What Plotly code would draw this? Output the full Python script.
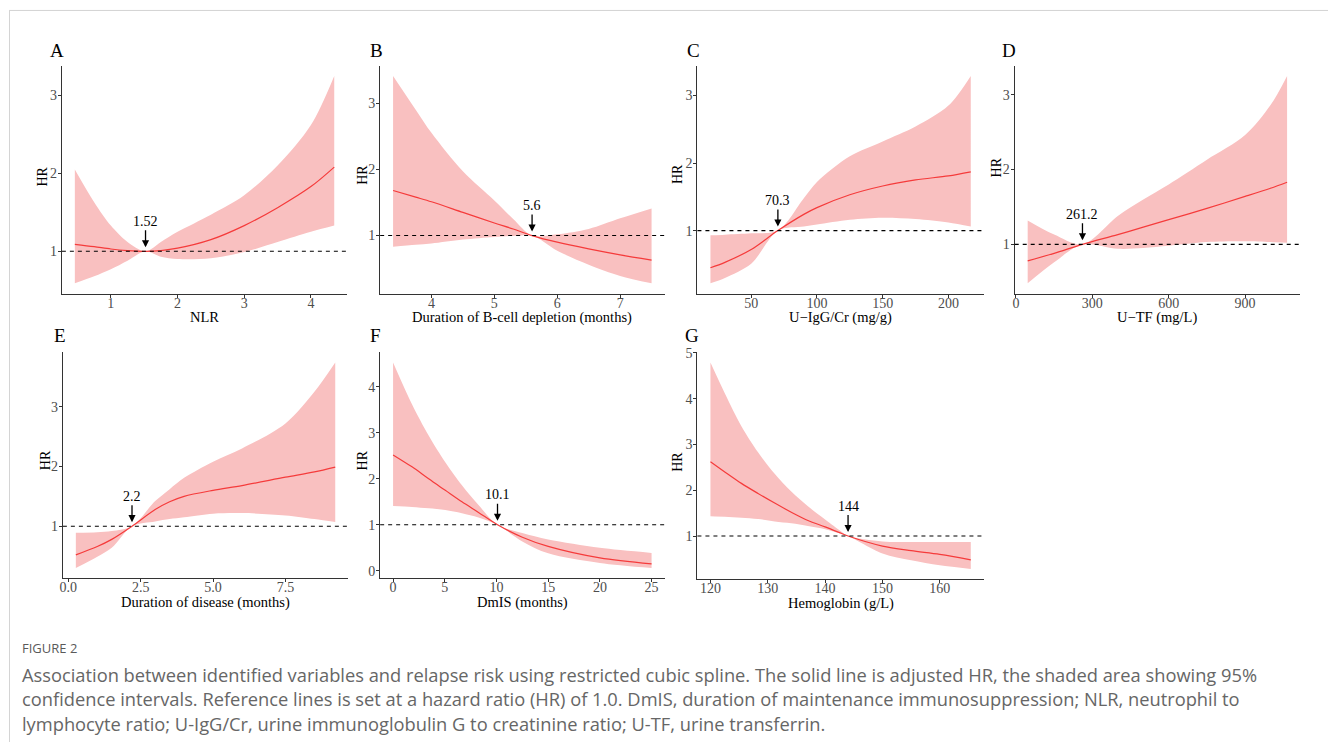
import plotly.graph_objects as go

W, H = 1328, 742

# ---------------- data ----------------
# A: NLR
nlr_x  = [0.46, 0.75, 1.0, 1.25, 1.52, 1.75, 2.0, 2.5, 3.0, 3.5, 4.0, 4.35]
nlr_hr = [1.09, 1.06, 1.03, 1.01, 1.00, 1.01, 1.04, 1.15, 1.33, 1.56, 1.83, 2.08]
nlr_lo = [0.59, 0.68, 0.77, 0.88, 1.00, 0.93, 0.90, 0.91, 0.99, 1.12, 1.25, 1.33]
nlr_hi = [2.05, 1.63, 1.33, 1.12, 1.00, 1.12, 1.25, 1.47, 1.72, 2.10, 2.62, 3.25]

# B: Duration of B-cell depletion
bcd_x  = [3.39, 3.75, 4.0, 4.5, 5.0, 5.3, 5.6, 6.0, 6.5, 7.0, 7.5]
bcd_hr = [1.68, 1.58, 1.51, 1.35, 1.19, 1.10, 1.00, 0.90, 0.80, 0.71, 0.63]
bcd_lo = [0.83, 0.86, 0.88, 0.94, 0.98, 0.995, 1.00, 0.77, 0.56, 0.39, 0.28]
bcd_hi = [3.41, 2.90, 2.55, 1.97, 1.53, 1.25, 1.00, 1.02, 1.10, 1.26, 1.41]

# C: U-IgG/Cr
igg_x  = [19, 30, 50, 70.3, 90, 100, 125, 150, 175, 200, 217]
igg_hr = [0.45, 0.53, 0.72, 1.00, 1.24, 1.34, 1.53, 1.66, 1.75, 1.81, 1.87]
igg_lo = [0.22, 0.30, 0.51, 1.00, 1.06, 1.09, 1.16, 1.19, 1.17, 1.12, 1.06]
igg_hi = [0.93, 0.94, 0.96, 1.00, 1.48, 1.72, 2.10, 2.32, 2.54, 2.85, 3.29]

# D: U-TF
utf_x  = [46, 150, 261.2, 400, 500, 600, 750, 900, 1000, 1065]
utf_hr = [0.78, 0.88, 1.00, 1.13, 1.23, 1.33, 1.48, 1.64, 1.75, 1.83]
utf_lo = [0.48, 0.76, 1.00, 0.94, 0.95, 0.98, 1.03, 1.04, 1.03, 1.02]
utf_hi = [1.32, 1.13, 1.00, 1.38, 1.60, 1.80, 2.13, 2.46, 2.86, 3.25]

# E: Duration of disease
dod_x  = [0.26, 1.0, 1.5, 2.2, 3.0, 3.5, 4.0, 5.0, 6.0, 7.5, 8.5, 9.22]
dod_hr = [0.52, 0.66, 0.78, 1.00, 1.28, 1.41, 1.50, 1.60, 1.68, 1.82, 1.91, 1.99]
dod_lo = [0.30, 0.49, 0.64, 1.00, 1.08, 1.12, 1.15, 1.21, 1.22, 1.18, 1.12, 1.07]
dod_hi = [0.89, 0.90, 0.92, 1.00, 1.42, 1.62, 1.81, 2.08, 2.30, 2.72, 3.25, 3.74]

# F: DmIS
dmis_x  = [0, 1.83, 3.44, 5.05, 6.66, 8.26, 10.1, 12.5, 15, 20, 25]
dmis_hr = [2.52, 2.26, 2.00, 1.75, 1.50, 1.27, 1.00, 0.73, 0.53, 0.28, 0.15]
dmis_lo = [1.41, 1.39, 1.36, 1.32, 1.25, 1.16, 1.00, 0.64, 0.38, 0.17, 0.06]
dmis_hi = [4.53, 3.62, 2.94, 2.36, 1.86, 1.43, 1.00, 0.82, 0.68, 0.50, 0.39]

# G: Hemoglobin
hb_x  = [120, 122.5, 125.4, 128.3, 131.2, 134.1, 137, 140, 142.8, 144, 150, 155, 160, 165.4]
hb_hr = [2.62, 2.40, 2.15, 1.93, 1.72, 1.52, 1.34, 1.20, 1.06, 1.00, 0.78, 0.68, 0.60, 0.48]
hb_lo = [1.43, 1.42, 1.40, 1.37, 1.32, 1.28, 1.22, 1.15, 1.05, 1.00, 0.62, 0.47, 0.36, 0.28]
hb_hi = [4.79, 4.12, 3.40, 2.83, 2.36, 1.97, 1.65, 1.36, 1.10, 1.00, 0.88, 0.87, 0.87, 0.87]

ref_values = [1.52, 5.6, 70.3, 261.2, 2.2, 10.1, 144]
ref_labels = ["1.52", "5.6", "70.3", "261.2", "2.2", "10.1", "144"]
panel_letters = ["A", "B", "C", "D", "E", "F", "G"]
x_titles = ["NLR", "Duration of B-cell depletion (months)", "U\u2212IgG/Cr (mg/g)",
            "U\u2212TF (mg/L)", "Duration of disease (months)", "DmIS (months)",
            "Hemoglobin (g/L)"]
x_tickvals = [[1, 2, 3, 4], [4, 5, 6, 7], [50, 100, 150, 200], [0, 300, 600, 900],
              [0, 2.5, 5, 7.5], [0, 5, 10, 15, 20, 25], [120, 130, 140, 150, 160]]
x_ticktext = [None, None, None, None, ["0.0", "2.5", "5.0", "7.5"], None, None]
y_tickvals = [[1, 2, 3], [1, 2, 3], [1, 2, 3], [1, 2, 3], [1, 2, 3],
              [0, 1, 2, 3, 4], [1, 2, 3, 4, 5]]

series = [
    (nlr_x, nlr_hr, nlr_lo, nlr_hi),
    (bcd_x, bcd_hr, bcd_lo, bcd_hi),
    (igg_x, igg_hr, igg_lo, igg_hi),
    (utf_x, utf_hr, utf_lo, utf_hi),
    (dod_x, dod_hr, dod_lo, dod_hi),
    (dmis_x, dmis_hr, dmis_lo, dmis_hi),
    (hb_x, hb_hr, hb_lo, hb_hi),
]

caption_head = "FIGURE 2"
caption_lines = [
    "Association between identified variables and relapse risk using restricted cubic spline. The solid line is adjusted HR, the shaded area showing 95%",
    "confidence intervals. Reference lines is set at a hazard ratio (HR) of 1.0. DmIS, duration of maintenance immunosuppression; NLR, neutrophil to",
    "lymphocyte ratio; U-IgG/Cr, urine immunoglobulin G to creatinine ratio; U-TF, urine transferrin.",
]

# ---------------- layout geometry (pixels) ----------------
boxes = [(59, 345, 60, 290), (378, 663, 60, 290), (696, 983, 60, 290), (1014, 1300, 60, 290),
         (60, 346, 349, 577), (378, 663, 349, 577), (696, 983, 349, 578)]
hr_pos = [(40, 172), (360, 170), (676, 169), (996, 163), (42, 458), (360, 458), (676, 459)]
letter_pos = [(54, 45), (374, 45), (692, 45), (1008, 45), (57, 332), (373, 332), (691, 332)]

SERIF = "Liberation Serif, Times New Roman, serif"
SANS = "Open Sans, Noto Sans, sans-serif"
FILL = "rgb(249,192,192)"
LINE = "#F53B3B"
AXC = "#333333"

def px(x):
    return x / W

def py(y):
    return 1 - y / H

fig = go.Figure()
layout = dict(width=W, height=H, margin=dict(l=0, r=0, t=0, b=0),
              paper_bgcolor="white", plot_bgcolor="white", showlegend=False)
annotations = []
shapes = []

for i, (xs, hr, lo, hi) in enumerate(series):
    n = i + 1
    xa = "x" if n == 1 else f"x{n}"
    ya = "y" if n == 1 else f"y{n}"
    fig.add_trace(go.Scatter(x=xs, y=lo, mode="lines", line=dict(width=0, shape="spline", smoothing=0.9),
                             xaxis=xa, yaxis=ya, hoverinfo="skip"))
    fig.add_trace(go.Scatter(x=xs, y=hi, mode="lines", line=dict(width=0, shape="spline", smoothing=0.9),
                             fill="tonexty", fillcolor=FILL, xaxis=xa, yaxis=ya, hoverinfo="skip"))
    fig.add_trace(go.Scatter(x=xs, y=hr, mode="lines", line=dict(width=1.2, color=LINE, shape="spline", smoothing=0.9),
                             xaxis=xa, yaxis=ya))
    x0p, x1p, y0p, y1p = boxes[i]
    xmin, xmax = min(xs), max(xs)
    ymin, ymax = min(lo), max(hi)
    dx = 0.05 * (xmax - xmin)
    dy = 0.05 * (ymax - ymin)
    common = dict(showgrid=False, zeroline=False, showline=True, linecolor=AXC, linewidth=1.1,
                  ticks="outside", ticklen=3, tickwidth=1, tickcolor=AXC,
                  tickfont=dict(family=SERIF, size=14, color="#4d4d4d"))
    xkey = "xaxis" if n == 1 else f"xaxis{n}"
    ykey = "yaxis" if n == 1 else f"yaxis{n}"
    xd = dict(common, domain=[px(x0p), px(x1p)], anchor=ya, range=[xmin - dx, xmax + dx],
              tickmode="array", tickvals=x_tickvals[i], ticklabelstandoff=-7)
    if x_ticktext[i] is not None:
        xd["ticktext"] = x_ticktext[i]
    yd = dict(common, domain=[py(y1p), py(y0p)], anchor=xa, range=[ymin - dy, ymax + dy],
              tickmode="array", tickvals=y_tickvals[i], ticklabelstandoff=-2)
    layout[xkey] = xd
    layout[ykey] = yd

    # dashed reference line at HR = 1
    shapes.append(dict(type="line", xref=f"{xa} domain", yref=ya, x0=0, x1=1, y0=1, y1=1,
                       line=dict(color="black", width=1.1, dash="4px,4px")))
    # reference arrow + label
    annotations.append(dict(x=ref_values[i], y=1, xref=xa, yref=ya, text=ref_labels[i],
                            showarrow=True, ax=0, ay=-30, arrowhead=2, arrowsize=1.1,
                            arrowwidth=1.3, arrowcolor="black", standoff=4,
                            font=dict(family=SERIF, size=14, color="black")))
    # x axis title
    annotations.append(dict(x=px((x0p + x1p) / 2), y=py(y1p + 24), xref="paper", yref="paper",
                            text=x_titles[i], showarrow=False, xanchor="center", yanchor="middle",
                            font=dict(family=SERIF, size=14.5, color="black")))
    # y axis title
    hx, hy = hr_pos[i]
    annotations.append(dict(x=px(hx), y=py(hy), xref="paper", yref="paper", text="HR",
                            textangle=-90, showarrow=False, xanchor="center", yanchor="middle",
                            font=dict(family=SERIF, size=14, color="black")))
    # panel letter
    lx, ly = letter_pos[i]
    annotations.append(dict(x=px(lx), y=py(ly), xref="paper", yref="paper", text=panel_letters[i],
                            showarrow=False, xanchor="center", yanchor="middle",
                            font=dict(family=SERIF, size=19, color="black")))

# caption
annotations.append(dict(x=px(17), y=py(647), xref="paper", yref="paper", text=caption_head,
                        showarrow=False, xanchor="left", yanchor="middle",
                        font=dict(family=SANS, size=13, color="#5a5a5a")))
for k, line in enumerate(caption_lines):
    annotations.append(dict(x=px(17), y=py(674 + 24.5 * k), xref="paper", yref="paper", text=line,
                            showarrow=False, xanchor="left", yanchor="middle",
                            font=dict(family=SANS, size=18.3, color="#666666")))

# page border (top and left)
shapes.append(dict(type="line", xref="paper", yref="paper", x0=px(6), x1=1, y0=py(4.5), y1=py(4.5),
                   line=dict(color="#d4d4d4", width=1)))
shapes.append(dict(type="line", xref="paper", yref="paper", x0=px(6.5), x1=px(6.5), y0=py(4.5), y1=0,
                   line=dict(color="#d4d4d4", width=1)))

layout["annotations"] = annotations
layout["shapes"] = shapes
fig.update_layout(**layout)
fig.write_html("out.html")
